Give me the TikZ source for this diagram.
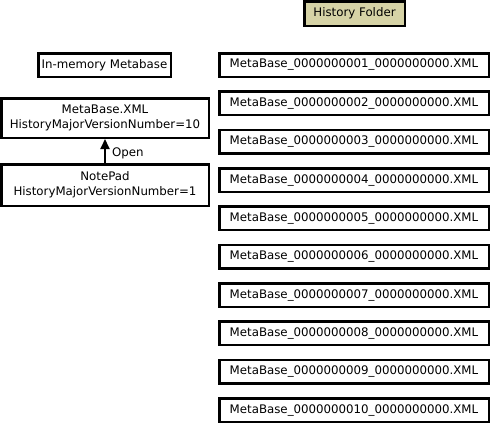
\documentclass[tikz,border=0pt]{standalone}
\usepackage{fontspec}
\setmainfont{DejaVu Sans}
\usetikzlibrary{arrows.meta}
\definecolor{khaki}{RGB}{214,211,166}
\tikzset{
  box/.style={draw=black, line width=2.5pt, rectangle, inner sep=0pt, align=center,
    font=\fontsize{11.8}{15}\selectfont},
  filebox/.style={box, minimum width=269.5pt, minimum height=23.5pt},
  conn/.style={line width=2pt, -{Triangle[width=9pt,length=10pt]}}
}
\begin{document}
\begin{tikzpicture}[x=1pt,y=-1pt]
\useasboundingbox (0,0) rectangle (492,424);
\node[box, fill=khaki, minimum width=100.5pt, minimum height=24.5pt] (hist) at (354.5,13.5) {History Folder};
\node[box, minimum width=132.5pt, minimum height=23.5pt] (mem) at (104.5,65) {In-memory Metabase};
\node[box, minimum width=207.5pt, minimum height=39.5pt] (xml) at (105,118) {MetaBase.XML\\HistoryMajorVersionNumber=10};
\node[box, minimum width=207.5pt, minimum height=41.5pt] (np) at (105,185) {NotePad\\HistoryMajorVersionNumber=1};
\draw[conn] (np.north) -- node[right, font=\fontsize{11.8}{13}\selectfont, inner sep=0pt, xshift=6pt, yshift=-2pt] (open) {Open} (xml.south);
\node[filebox] (f1) at (354,65) {MetaBase\_0000000001\_0000000000.XML};
\node[filebox] (f2) at (354,103.35) {MetaBase\_0000000002\_0000000000.XML};
\node[filebox] (f3) at (354,141.7) {MetaBase\_0000000003\_0000000000.XML};
\node[filebox] (f4) at (354,180.05) {MetaBase\_0000000004\_0000000000.XML};
\node[filebox] (f5) at (354,218.4) {MetaBase\_0000000005\_0000000000.XML};
\node[filebox] (f6) at (354,256.75) {MetaBase\_0000000006\_0000000000.XML};
\node[filebox] (f7) at (354,295.1) {MetaBase\_0000000007\_0000000000.XML};
\node[filebox] (f8) at (354,333.45) {MetaBase\_0000000008\_0000000000.XML};
\node[filebox] (f9) at (354,371.8) {MetaBase\_0000000009\_0000000000.XML};
\node[filebox] (f10) at (354,410.15) {MetaBase\_0000000010\_0000000000.XML};
\end{tikzpicture}
\end{document}
